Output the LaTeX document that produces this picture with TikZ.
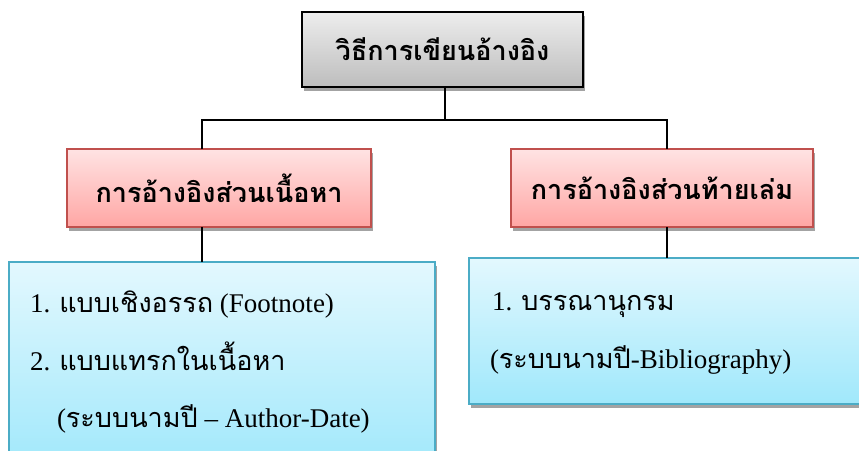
\documentclass[tikz,border=0pt]{standalone}
\usepackage{fontspec}
\setmainfont{Liberation Serif}
\newfontfamily\thf[Script=Thai]{Loma}
\usetikzlibrary{shadows}
\definecolor{redline}{HTML}{C0504D}
\definecolor{redtop}{HTML}{FFE3E3}
\definecolor{redbot}{HTML}{FFA6A4}
\definecolor{blueline}{HTML}{4BACC6}
\definecolor{bluetop}{HTML}{E3F8FE}
\definecolor{bluebot}{HTML}{A0E8FB}
\definecolor{graytop}{HTML}{EDEDED}
\definecolor{graybot}{HTML}{BDBDBD}
\definecolor{shadowc}{HTML}{A3A3A3}
\begin{document}
\begin{tikzpicture}[x=1pt,y=-1pt,
  every node/.style={inner sep=0pt,outer sep=0pt},
  shad/.style={drop shadow={shadow xshift=2pt,shadow yshift=-4pt,fill=shadowc,opacity=1}},
  topbox/.style={shad,draw=black,line width=2pt,top color=graytop,bottom color=graybot},
  redbox/.style={shad,draw=redline,line width=1.5pt,top color=redtop,bottom color=redbot},
  bluebox/.style={shad,draw=blueline,line width=1.5pt,top color=bluetop,bottom color=bluebot},
  head/.style={font=\fontsize{27}{32}\selectfont\thf\bfseries},
  body/.style={font=\fontsize{27}{32}\selectfont,anchor=base west},
  conn/.style={draw=black,line width=1.2pt}]
\useasboundingbox (0,0) rectangle (859,450);
% boxes
\node[topbox,minimum width=281pt,minimum height=75pt] (top) at (442.5,49.5) {};
\node[head] (toptext) at (top.center) {วิธีการเขียนอ้างอิง};
\node[redbox,minimum width=304pt,minimum height=78pt] (l) at (219,188) {};
\node[head] (ltext) at (l.center) {การอ้างอิงส่วนเนื้อหา};
\node[redbox,minimum width=302pt,minimum height=78pt] (r) at (662,188) {};
\node[head] (rtext) at (r.center) {การอ้างอิงส่วนท้ายเล่ม};
\node[bluebox,minimum width=426pt,minimum height=208pt] (lb) at (222,366) {};
\node[bluebox,minimum width=406pt,minimum height=146pt] (rb) at (672,331) {};
% texts
\node[body] (l1) at (30,312) {1. {\thf แบบเชิงอรรถ} (Footnote)};
\node[body] (l2) at (30,370) {2. {\thf แบบแทรกในเนื้อหา}};
\node[body] (l3) at (57,427) {({\thf ระบบนามปี} – Author-Date)};
\node[body] (r1) at (492,310) {1. {\thf บรรณานุกรม}};
\node[body] (r2) at (490,368) {({\thf ระบบนามปี}-Bibliography)};
% connectors
\coordinate (jt) at (445,120);
\coordinate (jl) at (202,120);
\coordinate (jr) at (667,120);
\draw[conn] (jt |- top.south) -- (jt);
\draw[conn] (jl |- l.north) -- (jl) -- (jr) -- (jr |- r.north);
\draw[conn] (jl |- l.south) -- (jl |- lb.north);
\draw[conn] (jr |- r.south) -- (jr |- rb.north);
\end{tikzpicture}
\end{document}
